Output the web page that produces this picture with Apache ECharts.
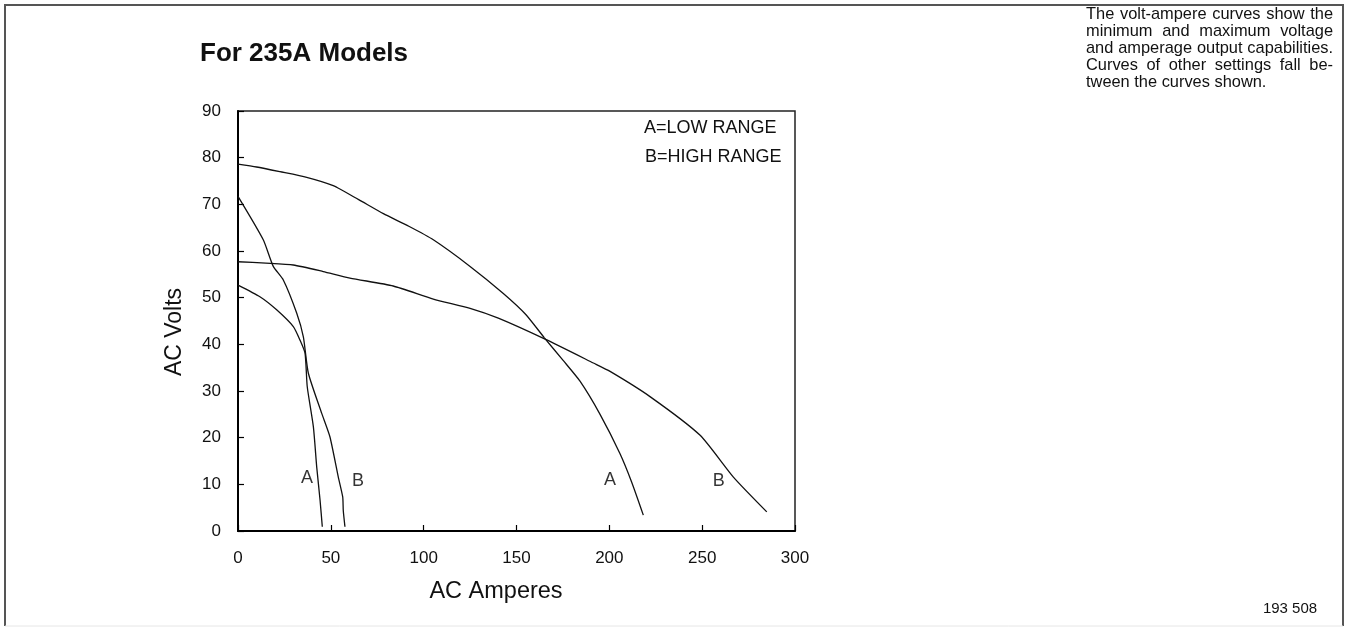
<!DOCTYPE html>
<html>
<head>
<meta charset="utf-8">
<script src="https://cdn.jsdelivr.net/npm/echarts@6/dist/echarts.min.js"></script>
<style>
  html, body { margin: 0; padding: 0; background: #fff; }
  #container { width: 1348px; height: 627px; }
</style>
</head>
<body>
<div id="container"></div>
<script>
// curves: [amperes, volts]
const lowRangeWide = [
  [0, 78.6], [10, 78.0], [22.6, 77.0], [37, 75.8], [51.3, 74.0], [65, 71.0],
  [78.3, 68.0], [92, 65.3], [105.2, 62.4], [125, 56.7], [142.9, 50.9],
  [155, 46.4], [165, 41.4], [175, 36.6], [184.2, 32.1], [195, 25.0],
  [205.7, 16.6], [212, 10.5], [218.3, 3.4]
];
const highRangeWide = [
  [0, 57.7], [15, 57.4], [29.8, 57.0], [45.9, 55.6], [60.3, 54.2], [83.6, 52.5],
  [105.2, 49.7], [125, 47.7], [140.2, 45.6], [165.4, 41.1], [191.4, 36.0],
  [200.4, 34.2], [221.9, 28.8], [248.9, 20.5], [266.7, 11.6], [284.8, 4.1]
];
const lowRangeNarrow = [
  [0, 52.7], [11.8, 50.2], [20.8, 47.4], [29.8, 43.8], [33.4, 40.9],
  [36.1, 38.1], [37.3, 30.9], [40.6, 22.3], [42.4, 13.7], [44.2, 6.6],
  [45.4, 0.9]
];
const highRangeNarrow = [
  [0, 71.7], [13.6, 62.4], [19, 56.7], [24.4, 53.8], [31.6, 46.7],
  [35.2, 41.6], [37.9, 33.8], [45.1, 25.2], [49.5, 20.2], [54.0, 11.6],
  [56.4, 7.3], [56.7, 4.4], [57.6, 0.9]
];
const curveTags = [
  [37.2, 11.3, "A"], [64.6, 10.7, "B"], [200.3, 10.9, "A"], [259, 10.7, "B"]
];
const xTicks = [0, 50, 100, 150, 200, 250, 300];
const yTicks = [0, 10, 20, 30, 40, 50, 60, 70, 80, 90];

const note = [
  "The volt-ampere curves show the",
  "minimum and maximum voltage",
  "and amperage output capabilities.",
  "Curves of other settings fall be-",
  "tween the curves shown."
];

const FONT = '"Liberation Sans", Arial, Helvetica, sans-serif';

// justified paragraph, one text per word
const noteFontSize = 16.4;
const noteLeft = 1086, noteRight = 1333, noteTop = 14, noteStep = 17;
const measureCtx = document.createElement("canvas").getContext("2d");
measureCtx.font = noteFontSize + "px " + FONT;
const noteGraphics = [];
note.forEach((line, i) => {
  const y = noteTop + i * noteStep;
  const words = line.split(" ");
  const widths = words.map((w) => measureCtx.measureText(w).width);
  const total = widths.reduce((a, b) => a + b, 0);
  let gap = (noteRight - noteLeft - total) / (words.length - 1);
  if (i === note.length - 1) gap = measureCtx.measureText(" ").width;
  let x = noteLeft;
  words.forEach((w, j) => {
    noteGraphics.push({
      type: "text", x: x, y: y,
      style: { text: w, font: noteFontSize + "px " + FONT, fill: "#111", textVerticalAlign: "middle" }
    });
    x += widths[j] + gap;
  });
});

const lineSeries = (name, data) => ({
  name: name,
  type: "line",
  data: data,
  symbol: "none",
  smooth: 0.2,
  lineStyle: { color: "#111", width: 1.3 },
  silent: true,
  animation: false,
});

const dom = document.getElementById("container");
const myChart = echarts.init(dom);

const option = {
  backgroundColor: "#fff",
  animation: false,
  textStyle: { fontFamily: FONT, color: "#111" },
  grid: {
    left: 238,
    right: 553,
    top: 111,
    bottom: 96,
    show: true,
    borderColor: "#222",
    borderWidth: 1.5,
  },
  xAxis: {
    type: "value",
    min: xTicks[0],
    max: xTicks[xTicks.length - 1],
    interval: 50,
    splitLine: { show: false },
    axisLine: { lineStyle: { color: "#000", width: 2 } },
    axisTick: { inside: true, length: 6, lineStyle: { color: "#000", width: 1.2 } },
    axisLabel: { color: "#111", fontSize: 17, margin: 19, fontFamily: FONT },
  },
  yAxis: {
    type: "value",
    min: yTicks[0],
    max: yTicks[yTicks.length - 1],
    interval: 10,
    splitLine: { show: false },
    axisLine: { lineStyle: { color: "#000", width: 2 } },
    axisTick: { inside: true, length: 6, lineStyle: { color: "#000", width: 1.2 } },
    axisLabel: { color: "#111", fontSize: 17, margin: 17, fontFamily: FONT },
  },
  series: [
    lineSeries("A wide", lowRangeWide),
    lineSeries("B wide", highRangeWide),
    lineSeries("A narrow", lowRangeNarrow),
    lineSeries("B narrow", highRangeNarrow),
    {
      type: "scatter",
      data: curveTags,
      symbolSize: 0,
      silent: true,
      label: {
        show: true,
        position: "inside",
        formatter: (p) => p.data[2],
        color: "#000",
        fontSize: 18,
        fontFamily: FONT,
      },
    },
  ],
  graphic: [
    // page frame
    { type: "polyline", shape: { points: [[5, 626], [5, 5], [1343, 5], [1343, 626]] },
      style: { stroke: "#555", lineWidth: 2, fill: null } },
    { type: "line", shape: { x1: 5, y1: 626, x2: 1343, y2: 626 },
      style: { stroke: "#e6e6e6", lineWidth: 1 } },
    { type: "text", left: 200, top: 41,
      style: { text: "For 235A Models", font: "bold 26px " + FONT, fill: "#111" } },
    { type: "text", x: 644, y: 128,
      style: { text: "A=LOW RANGE", font: "18px " + FONT, fill: "#111", textVerticalAlign: "middle" } },
    { type: "text", x: 645, y: 157,
      style: { text: "B=HIGH RANGE", font: "18px " + FONT, fill: "#111", textVerticalAlign: "middle" } },
    { type: "text", x: 496, y: 592,
      style: { text: "AC Amperes", font: "23.5px " + FONT, fill: "#111",
        textAlign: "center", textVerticalAlign: "middle" } },
    { type: "text", x: 175, y: 332, rotation: Math.PI / 2,
      style: { text: "AC Volts", font: "23px " + FONT, fill: "#111",
        textAlign: "center", textVerticalAlign: "middle" } },
    { type: "text", x: 1290, y: 609,
      style: { text: "193 508", font: "15px " + FONT, fill: "#111",
        textAlign: "center", textVerticalAlign: "middle" } },
    ...noteGraphics,
  ],
};

myChart.setOption(option);
</script>
</body>
</html>
